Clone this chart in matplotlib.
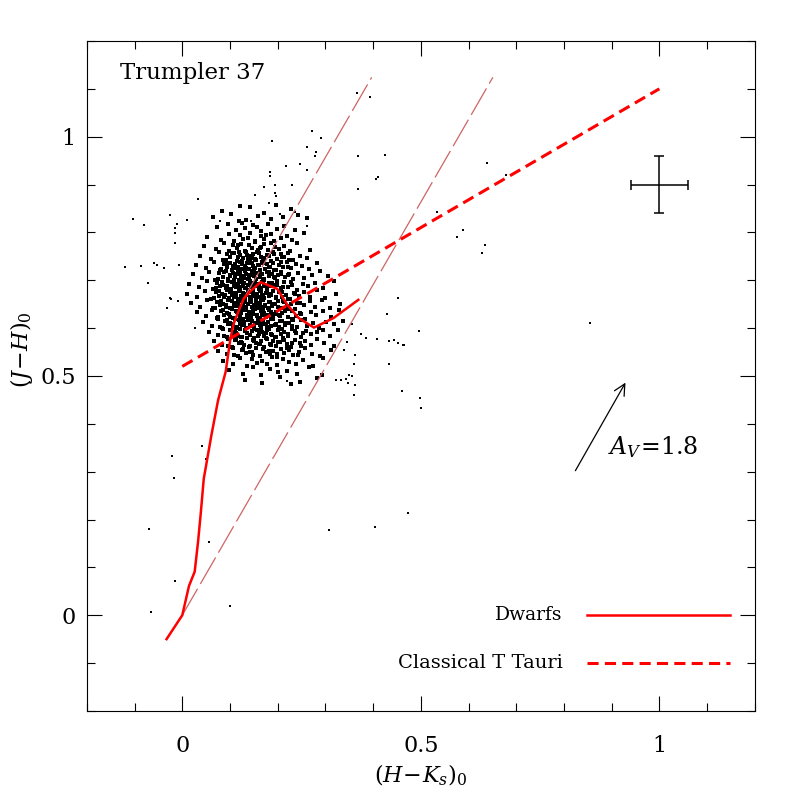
import matplotlib
matplotlib.use("Agg")
import matplotlib.pyplot as plt
from matplotlib.ticker import MultipleLocator

plt.rcParams['font.family'] = ['DejaVu Serif']
plt.rcParams['mathtext.fontset'] = 'dejavuserif'
plt.rcParams['lines.scale_dashes'] = False

# Intrinsic dwarf sequence (H-Ks, J-H)
dwarf_hk = [-0.033, 0.0, 0.014, 0.026, 0.033, 0.039, 0.045, 0.061, 0.075, 0.091, 0.101,
            0.108, 0.119, 0.129, 0.146, 0.164, 0.199, 0.220, 0.244, 0.276, 0.317, 0.369]
dwarf_jh = [-0.050, 0.0, 0.061, 0.091, 0.153, 0.216, 0.285, 0.376, 0.449, 0.509, 0.579,
            0.610, 0.638, 0.662, 0.680, 0.696, 0.682, 0.649, 0.621, 0.601, 0.621, 0.659]

# Classical T Tauri locus
ctts_hk = [0.0, 1.0]
ctts_jh = [0.52, 1.10]

# reddening vectors
redd1_hk = [0.0, 0.651]
redd1_jh = [0.0, 1.124]
redd2_hk = [0.129, 0.397]
redd2_jh = [0.662, 1.124]

# Trumpler 37 members, main clump (read band by band in J-H)
cloud_hk = [
    0.083, 0.142, 0.196, 0.228, 0.121, 0.171,
    0.064, 0.102, 0.133, 0.158, 0.187, 0.211, 0.243, 0.118, 0.262,
    0.072, 0.095, 0.113, 0.131, 0.148, 0.166, 0.179, 0.198, 0.214, 0.236, 0.125, 0.157,
    0.052, 0.081, 0.098, 0.109, 0.122, 0.137, 0.141, 0.153, 0.164, 0.172, 0.185, 0.193,
    0.207, 0.219, 0.231, 0.256, 0.128, 0.176,
    0.045, 0.071, 0.088, 0.097, 0.106, 0.114, 0.123, 0.131, 0.139, 0.146, 0.152, 0.158,
    0.165, 0.171, 0.179, 0.186, 0.194, 0.203, 0.214, 0.225, 0.241, 0.268, 0.117, 0.162,
    0.038, 0.061, 0.077, 0.086, 0.093, 0.101, 0.108, 0.114, 0.121, 0.127, 0.133, 0.138,
    0.144, 0.149, 0.155, 0.161, 0.166, 0.172, 0.178, 0.185, 0.191, 0.198, 0.206, 0.213,
    0.222, 0.233, 0.247, 0.261, 0.119, 0.152,
    0.028, 0.049, 0.066, 0.079, 0.087, 0.094, 0.099, 0.105, 0.111, 0.116, 0.121, 0.126,
    0.131, 0.135, 0.140, 0.144, 0.149, 0.153, 0.158, 0.163, 0.168, 0.173, 0.178, 0.184,
    0.190, 0.196, 0.203, 0.211, 0.219, 0.228, 0.238, 0.251, 0.266, 0.283, 0.113, 0.146,
    0.022, 0.041, 0.057, 0.069, 0.078, 0.085, 0.091, 0.096, 0.101, 0.106, 0.110, 0.114,
    0.118, 0.122, 0.126, 0.130, 0.134, 0.138, 0.142, 0.146, 0.150, 0.154, 0.158, 0.162,
    0.167, 0.172, 0.177, 0.182, 0.188, 0.194, 0.200, 0.207, 0.215, 0.223, 0.232, 0.243,
    0.256, 0.271, 0.288, 0.305,
    0.015, 0.034, 0.052, 0.064, 0.073, 0.080, 0.086, 0.091, 0.096, 0.100, 0.104, 0.108,
    0.112, 0.116, 0.119, 0.123, 0.127, 0.130, 0.134, 0.137, 0.141, 0.145, 0.148, 0.152,
    0.156, 0.160, 0.164, 0.168, 0.172, 0.177, 0.182, 0.187, 0.193, 0.199, 0.206, 0.214,
    0.222, 0.231, 0.241, 0.252, 0.264, 0.279, 0.296, 0.318,
    0.010, 0.030, 0.047, 0.060, 0.070, 0.077, 0.083, 0.088, 0.093, 0.097, 0.101, 0.105,
    0.109, 0.113, 0.116, 0.120, 0.124, 0.127, 0.131, 0.134, 0.138, 0.141, 0.145, 0.149,
    0.152, 0.156, 0.160, 0.164, 0.168, 0.172, 0.176, 0.181, 0.186, 0.191, 0.197, 0.203,
    0.210, 0.217, 0.225, 0.234, 0.244, 0.255, 0.268, 0.283, 0.300, 0.322,
    0.018, 0.037, 0.052, 0.064, 0.073, 0.080, 0.086, 0.091, 0.096, 0.100, 0.104, 0.108,
    0.112, 0.116, 0.120, 0.123, 0.127, 0.131, 0.134, 0.138, 0.142, 0.146, 0.150, 0.154,
    0.158, 0.162, 0.166, 0.170, 0.174, 0.179, 0.184, 0.189, 0.194, 0.200, 0.206, 0.213,
    0.220, 0.228, 0.237, 0.246, 0.256, 0.267, 0.279, 0.293, 0.309, 0.331,
    0.031, 0.050, 0.063, 0.073, 0.081, 0.088, 0.094, 0.099, 0.104, 0.108, 0.112, 0.116,
    0.120, 0.124, 0.128, 0.132, 0.136, 0.140, 0.144, 0.148, 0.152, 0.156, 0.160, 0.164,
    0.168, 0.172, 0.176, 0.181, 0.186, 0.191, 0.196, 0.202, 0.208, 0.215, 0.222, 0.230,
    0.239, 0.248, 0.258, 0.269, 0.281, 0.295, 0.311, 0.329,
    0.043, 0.062, 0.074, 0.083, 0.090, 0.096, 0.101, 0.106, 0.110, 0.114, 0.118, 0.122,
    0.126, 0.130, 0.134, 0.138, 0.142, 0.146, 0.150, 0.154, 0.158, 0.162, 0.166, 0.170,
    0.175, 0.180, 0.185, 0.190, 0.196, 0.202, 0.209, 0.216, 0.224, 0.232, 0.241, 0.251,
    0.262, 0.274, 0.287, 0.301, 0.317, 0.336,
    0.056, 0.074, 0.085, 0.093, 0.100, 0.106, 0.111, 0.116, 0.121, 0.126, 0.131, 0.136,
    0.141, 0.146, 0.151, 0.156, 0.161, 0.166, 0.171, 0.176, 0.182, 0.188, 0.194, 0.200,
    0.207, 0.214, 0.222, 0.230, 0.239, 0.249, 0.259, 0.270, 0.282, 0.295, 0.309, 0.327,
    0.067, 0.084, 0.095, 0.104, 0.111, 0.118, 0.124, 0.130, 0.136, 0.142, 0.148, 0.154,
    0.160, 0.166, 0.172, 0.178, 0.184, 0.190, 0.197, 0.204, 0.211, 0.219, 0.227, 0.236,
    0.246, 0.257, 0.269, 0.283, 0.298, 0.318,
    0.074, 0.093, 0.106, 0.116, 0.125, 0.133, 0.141, 0.148, 0.155, 0.162, 0.169, 0.176,
    0.183, 0.190, 0.198, 0.206, 0.214, 0.223, 0.233, 0.244, 0.257, 0.272, 0.289, 0.312,
    0.086, 0.107, 0.122, 0.135, 0.146, 0.157, 0.167, 0.177, 0.188, 0.199, 0.211, 0.224,
    0.238, 0.254, 0.273, 0.296,
    0.098, 0.127, 0.148, 0.166, 0.183, 0.201, 0.219, 0.241, 0.266, 0.293,
    0.131, 0.168, 0.205, 0.246, 0.283, 0.227,
]
cloud_jh = [
    0.845, 0.852, 0.858, 0.848, 0.855, 0.841,
    0.832, 0.838, 0.826, 0.835, 0.829, 0.833, 0.837, 0.824, 0.831,
    0.812, 0.818, 0.805, 0.809, 0.815, 0.802, 0.817, 0.807, 0.813, 0.804, 0.819, 0.811,
    0.791, 0.785, 0.797, 0.782, 0.794, 0.788, 0.799, 0.783, 0.792, 0.786, 0.796, 0.781,
    0.789, 0.793, 0.784, 0.798, 0.787, 0.795,
    0.771, 0.765, 0.778, 0.762, 0.774, 0.768, 0.776, 0.761, 0.773, 0.767, 0.779, 0.764,
    0.770, 0.775, 0.763, 0.777, 0.769, 0.766, 0.772, 0.761, 0.778, 0.764, 0.774, 0.768,
    0.751, 0.745, 0.758, 0.742, 0.754, 0.748, 0.756, 0.741, 0.753, 0.747, 0.759, 0.744,
    0.750, 0.755, 0.743, 0.757, 0.749, 0.746, 0.752, 0.741, 0.758, 0.744, 0.754, 0.748,
    0.756, 0.742, 0.751, 0.747, 0.759, 0.745,
    0.731, 0.725, 0.738, 0.722, 0.734, 0.728, 0.736, 0.721, 0.733, 0.727, 0.739, 0.724,
    0.730, 0.735, 0.723, 0.737, 0.729, 0.726, 0.732, 0.721, 0.738, 0.724, 0.734, 0.728,
    0.736, 0.722, 0.731, 0.727, 0.739, 0.725, 0.733, 0.729, 0.723, 0.737, 0.726, 0.735,
    0.712, 0.704, 0.718, 0.701, 0.715, 0.707, 0.719, 0.703, 0.710, 0.716, 0.706, 0.713,
    0.700, 0.717, 0.709, 0.705, 0.714, 0.702, 0.711, 0.719, 0.708, 0.703, 0.716, 0.706,
    0.712, 0.701, 0.718, 0.709, 0.714, 0.704, 0.710, 0.717, 0.707, 0.713, 0.702, 0.715,
    0.705, 0.711, 0.719, 0.708,
    0.693, 0.686, 0.698, 0.681, 0.695, 0.688, 0.691, 0.684, 0.699, 0.682, 0.696, 0.689,
    0.685, 0.692, 0.680, 0.697, 0.687, 0.694, 0.683, 0.690, 0.699, 0.686, 0.681, 0.695,
    0.688, 0.692, 0.684, 0.697, 0.689, 0.682, 0.694, 0.687, 0.691, 0.698, 0.683, 0.696,
    0.685, 0.690, 0.680, 0.693, 0.688, 0.695, 0.684, 0.698,
    0.672, 0.665, 0.678, 0.661, 0.675, 0.668, 0.671, 0.664, 0.679, 0.662, 0.676, 0.669,
    0.666, 0.673, 0.660, 0.677, 0.667, 0.674, 0.663, 0.670, 0.679, 0.665, 0.661, 0.676,
    0.668, 0.672, 0.664, 0.678, 0.669, 0.662, 0.674, 0.667, 0.671, 0.677, 0.663, 0.675,
    0.666, 0.670, 0.660, 0.673, 0.668, 0.676, 0.664, 0.679, 0.662, 0.671,
    0.652, 0.645, 0.658, 0.641, 0.655, 0.648, 0.651, 0.644, 0.659, 0.642, 0.656, 0.649,
    0.646, 0.653, 0.640, 0.657, 0.647, 0.654, 0.643, 0.650, 0.659, 0.645, 0.641, 0.656,
    0.648, 0.652, 0.644, 0.658, 0.649, 0.642, 0.654, 0.647, 0.651, 0.657, 0.643, 0.655,
    0.646, 0.650, 0.640, 0.653, 0.648, 0.656, 0.644, 0.659, 0.642, 0.651,
    0.633, 0.626, 0.638, 0.621, 0.635, 0.628, 0.631, 0.624, 0.639, 0.622, 0.636, 0.629,
    0.625, 0.632, 0.620, 0.637, 0.627, 0.634, 0.623, 0.630, 0.639, 0.626, 0.621, 0.635,
    0.628, 0.632, 0.624, 0.638, 0.629, 0.622, 0.634, 0.627, 0.631, 0.637, 0.623, 0.636,
    0.625, 0.630, 0.620, 0.633, 0.628, 0.635, 0.624, 0.638,
    0.612, 0.605, 0.618, 0.601, 0.615, 0.608, 0.611, 0.604, 0.619, 0.602, 0.616, 0.609,
    0.606, 0.613, 0.600, 0.617, 0.607, 0.614, 0.603, 0.610, 0.619, 0.606, 0.601, 0.615,
    0.608, 0.612, 0.604, 0.618, 0.609, 0.602, 0.614, 0.607, 0.611, 0.617, 0.603, 0.616,
    0.605, 0.610, 0.600, 0.613, 0.608, 0.615,
    0.592, 0.585, 0.598, 0.581, 0.595, 0.588, 0.591, 0.584, 0.599, 0.582, 0.596, 0.589,
    0.586, 0.593, 0.580, 0.597, 0.587, 0.594, 0.583, 0.590, 0.599, 0.586, 0.581, 0.595,
    0.588, 0.592, 0.584, 0.598, 0.589, 0.582, 0.594, 0.587, 0.591, 0.597, 0.583, 0.596,
    0.572, 0.565, 0.578, 0.561, 0.575, 0.568, 0.571, 0.564, 0.579, 0.562, 0.576, 0.569,
    0.566, 0.573, 0.560, 0.577, 0.567, 0.574, 0.563, 0.570, 0.579, 0.566, 0.561, 0.575,
    0.568, 0.572, 0.564, 0.578, 0.569, 0.562,
    0.552, 0.545, 0.558, 0.541, 0.555, 0.548, 0.551, 0.544, 0.559, 0.542, 0.556, 0.549,
    0.546, 0.553, 0.540, 0.557, 0.547, 0.554, 0.543, 0.550, 0.559, 0.546, 0.541, 0.555,
    0.532, 0.525, 0.538, 0.521, 0.535, 0.528, 0.531, 0.524, 0.539, 0.522, 0.536, 0.529,
    0.526, 0.533, 0.520, 0.537,
    0.512, 0.505, 0.518, 0.501, 0.515, 0.508, 0.511, 0.504, 0.519, 0.502,
    0.492, 0.485, 0.498, 0.488, 0.495, 0.483,
]

# densest part of the clump
core_hk = [
    0.091, 0.104, 0.117, 0.126, 0.136, 0.147, 0.157, 0.169, 0.181, 0.193, 0.208, 0.224,
    0.082, 0.095, 0.107, 0.117, 0.125, 0.133, 0.142, 0.151, 0.160, 0.170, 0.181, 0.193,
    0.206, 0.222,
    0.075, 0.088, 0.099, 0.109, 0.117, 0.124, 0.132, 0.139, 0.147, 0.155, 0.163, 0.172,
    0.182, 0.193, 0.206, 0.221,
    0.071, 0.083, 0.094, 0.103, 0.111, 0.118, 0.125, 0.132, 0.139, 0.146, 0.153, 0.161,
    0.169, 0.178, 0.188, 0.199, 0.212, 0.228,
    0.066, 0.078, 0.089, 0.098, 0.106, 0.113, 0.120, 0.127, 0.134, 0.141, 0.148, 0.155,
    0.162, 0.170, 0.178, 0.187, 0.197, 0.208, 0.221, 0.237,
    0.069, 0.081, 0.092, 0.101, 0.109, 0.116, 0.123, 0.130, 0.137, 0.144, 0.151, 0.158,
    0.165, 0.173, 0.181, 0.190, 0.200, 0.211, 0.224, 0.241,
    0.074, 0.086, 0.097, 0.106, 0.114, 0.121, 0.128, 0.135, 0.142, 0.149, 0.156, 0.163,
    0.170, 0.178, 0.186, 0.195, 0.205, 0.216, 0.229, 0.246,
    0.080, 0.093, 0.104, 0.113, 0.121, 0.129, 0.137, 0.145, 0.153, 0.161, 0.169, 0.177,
    0.186, 0.195, 0.205, 0.217, 0.231, 0.248,
    0.087, 0.101, 0.113, 0.123, 0.132, 0.141, 0.150, 0.159, 0.168, 0.177, 0.187, 0.197,
    0.208, 0.221, 0.236, 0.253,
    0.096, 0.112, 0.126, 0.139, 0.151, 0.163, 0.175, 0.187, 0.200, 0.214, 0.230, 0.249,
    0.108, 0.128, 0.146, 0.163, 0.181, 0.199, 0.219, 0.242,
]
core_jh = [
    0.743, 0.757, 0.749, 0.741, 0.753, 0.746, 0.759, 0.744, 0.751, 0.755, 0.748, 0.742,
    0.723, 0.737, 0.729, 0.721, 0.733, 0.726, 0.739, 0.724, 0.731, 0.735, 0.728, 0.722,
    0.738, 0.727,
    0.703, 0.717, 0.709, 0.701, 0.713, 0.706, 0.719, 0.704, 0.711, 0.715, 0.708, 0.702,
    0.718, 0.707, 0.714, 0.710,
    0.683, 0.697, 0.689, 0.681, 0.693, 0.686, 0.699, 0.684, 0.691, 0.695, 0.688, 0.682,
    0.698, 0.687, 0.694, 0.690, 0.685, 0.696,
    0.663, 0.677, 0.669, 0.661, 0.673, 0.666, 0.679, 0.664, 0.671, 0.675, 0.668, 0.662,
    0.678, 0.667, 0.674, 0.670, 0.665, 0.676, 0.660, 0.672,
    0.643, 0.657, 0.649, 0.641, 0.653, 0.646, 0.659, 0.644, 0.651, 0.655, 0.648, 0.642,
    0.658, 0.647, 0.654, 0.650, 0.645, 0.656, 0.640, 0.652,
    0.623, 0.637, 0.629, 0.621, 0.633, 0.626, 0.639, 0.624, 0.631, 0.635, 0.628, 0.622,
    0.638, 0.627, 0.634, 0.630, 0.625, 0.636, 0.620, 0.632,
    0.603, 0.617, 0.609, 0.601, 0.613, 0.606, 0.619, 0.604, 0.611, 0.615, 0.608, 0.602,
    0.618, 0.607, 0.614, 0.610, 0.605, 0.616,
    0.583, 0.597, 0.589, 0.581, 0.593, 0.586, 0.599, 0.584, 0.591, 0.595, 0.588, 0.582,
    0.598, 0.587, 0.594, 0.590,
    0.563, 0.577, 0.569, 0.561, 0.573, 0.566, 0.579, 0.564, 0.571, 0.575, 0.568, 0.562,
    0.543, 0.557, 0.549, 0.541, 0.553, 0.546, 0.559, 0.544,
]

# scattered stars outside the clump
field_hk = [0.366, 0.393, 0.272, 0.291, 0.188, 0.262, 0.281, 0.279, 0.369, 0.425, 0.246,
            0.218, 0.262, 0.410, 0.406, 0.183, 0.183, 0.195, 0.172, 0.229, 0.369, 0.152,
            0.195, 0.197, 0.181, 0.197, 0.033, 0.236, 0.171, 0.204, -0.026, -0.103, -0.080,
            -0.012, -0.016, -0.016, -0.016, 0.010, 0.079, 0.073, 0.145, 0.262, -0.121,
            -0.087, -0.059, -0.052, -0.038, -0.072, -0.007, -0.031, -0.024, -0.009, 0.027,
            0.452, 0.429, 0.374, 0.356, 0.533, 0.589, 0.576, 0.634, 0.628, 0.497, 0.385,
            0.409, 0.434, 0.444, 0.453, 0.464, 0.434, 0.461, 0.498, 0.501, 0.360, 0.349,
            0.356, 0.347, 0.361, 0.322, 0.333, 0.359, 0.361, 0.339, 0.345, 0.639, 0.678,
            0.854, 0.463, 0.220, 0.344, -0.022, 0.042, 0.049, -0.017, -0.069, 0.056, 0.308,
            0.404, 0.473, -0.015, -0.066, 0.100, -0.026]
field_jh = [1.092, 1.082, 1.012, 0.998, 0.992, 0.978, 0.969, 0.959, 0.959, 0.961, 0.943,
            0.938, 0.931, 0.916, 0.912, 0.926, 0.917, 0.900, 0.895, 0.898, 0.890, 0.879,
            0.883, 0.875, 0.862, 0.858, 0.869, 0.842, 0.842, 0.839, 0.837, 0.828, 0.816,
            0.818, 0.809, 0.798, 0.778, 0.825, 0.823, 0.814, 0.823, 0.814, 0.728,
            0.730, 0.736, 0.732, 0.725, 0.694, 0.732, 0.643, 0.660, 0.657, 0.601,
            0.663, 0.629, 0.588, 0.608, 0.843, 0.806, 0.790, 0.774, 0.757, 0.594, 0.580,
            0.578, 0.572, 0.575, 0.568, 0.565, 0.524, 0.468, 0.454, 0.433, 0.460, 0.502,
            0.500, 0.486, 0.482, 0.491, 0.491, 0.526, 0.543, 0.554, 0.570, 0.946, 0.919,
            0.610, 0.564, 0.489, 0.493, 0.333, 0.354, 0.327, 0.287, 0.180, 0.154, 0.179,
            0.184, 0.214, 0.072, 0.006, 0.019, 0.662]

# typical error bar and reddening arrow
err_hk, err_jh, err_size = 1.0, 0.9, 0.06
arrow_start = (0.824, 0.302)
arrow_end = (0.929, 0.486)

fig = plt.figure(figsize=(7.97, 7.97), dpi=100)
ax = fig.add_axes([0.109, 0.108, 0.838, 0.8406])

ax.plot(cloud_hk, cloud_jh, ls='none', marker='s', ms=2.3, mew=0, color='k')
ax.plot(core_hk, core_jh, ls='none', marker='s', ms=2.3, mew=0, color='k')
ax.plot(field_hk, field_jh, ls='none', marker='s', ms=1.8, mew=0, color='k')

redd_col = '#cd6464'
ax.plot(redd1_hk, redd1_jh, color=redd_col, lw=0.9, dashes=(22, 4))
ax.plot(redd2_hk, redd2_jh, color=redd_col, lw=0.9, dashes=(22, 4))

ax.plot(dwarf_hk, dwarf_jh, color='red', lw=1.8)
ax.plot(ctts_hk, ctts_jh, color='red', lw=2.2, dashes=(8.5, 4.5))

ax.errorbar(err_hk, err_jh, xerr=err_size, yerr=err_size, color='k', lw=1.1, capsize=3.5,
            capthick=1.1)
ax.annotate('', xy=arrow_end, xytext=arrow_start,
            arrowprops=dict(arrowstyle='->', lw=0.9, color='k', mutation_scale=20,
                            shrinkA=0, shrinkB=0))
ax.text(0.893, 0.352, r'$A_V\!=\!1.8$', fontsize=17, ha='left', va='center')

ax.text(-0.13, 1.134, 'Trumpler 37', fontsize=16.5, ha='left', va='center')

# legend drawn by hand
ax.plot([0.849, 1.149], [0.0, 0.0], color='red', lw=1.8)
ax.plot([0.849, 1.149], [-0.1, -0.1], color='red', lw=2.2, dashes=(8, 4.5))
ax.text(0.797, 0.0, 'Dwarfs', fontsize=13.5, ha='right', va='center')
ax.text(0.797, -0.1, 'Classical T Tauri', fontsize=14, ha='right', va='center')

ax.set_xlim(-0.2, 1.2)
ax.set_ylim(-0.2, 1.2)
ax.set_xticks([0, 0.5, 1])
ax.set_xticklabels(['0', '0.5', '1'])
ax.set_yticks([0, 0.5, 1])
ax.set_yticklabels(['0', '0.5', '1'])
ax.xaxis.set_minor_locator(MultipleLocator(0.1))
ax.yaxis.set_minor_locator(MultipleLocator(0.1))
ax.tick_params(which='both', direction='in', top=True, right=True, width=0.8,
               labelsize=16)
ax.tick_params(which='major', length=11)
ax.tick_params(which='minor', length=5.5)
ax.tick_params(axis='x', pad=17)
ax.tick_params(axis='y', pad=8)
for s in ax.spines.values():
    s.set_linewidth(0.8)

ax.set_xlabel(r'$(H\!-\!K_s)_0$', fontsize=16)
ax.set_ylabel(r'$(J\!-\!H)_0$', fontsize=16)
ax.xaxis.set_label_coords(0.5, -0.077)
ax.yaxis.set_label_coords(-0.078, 0.54)

fig.savefig('out.png', dpi=100)
